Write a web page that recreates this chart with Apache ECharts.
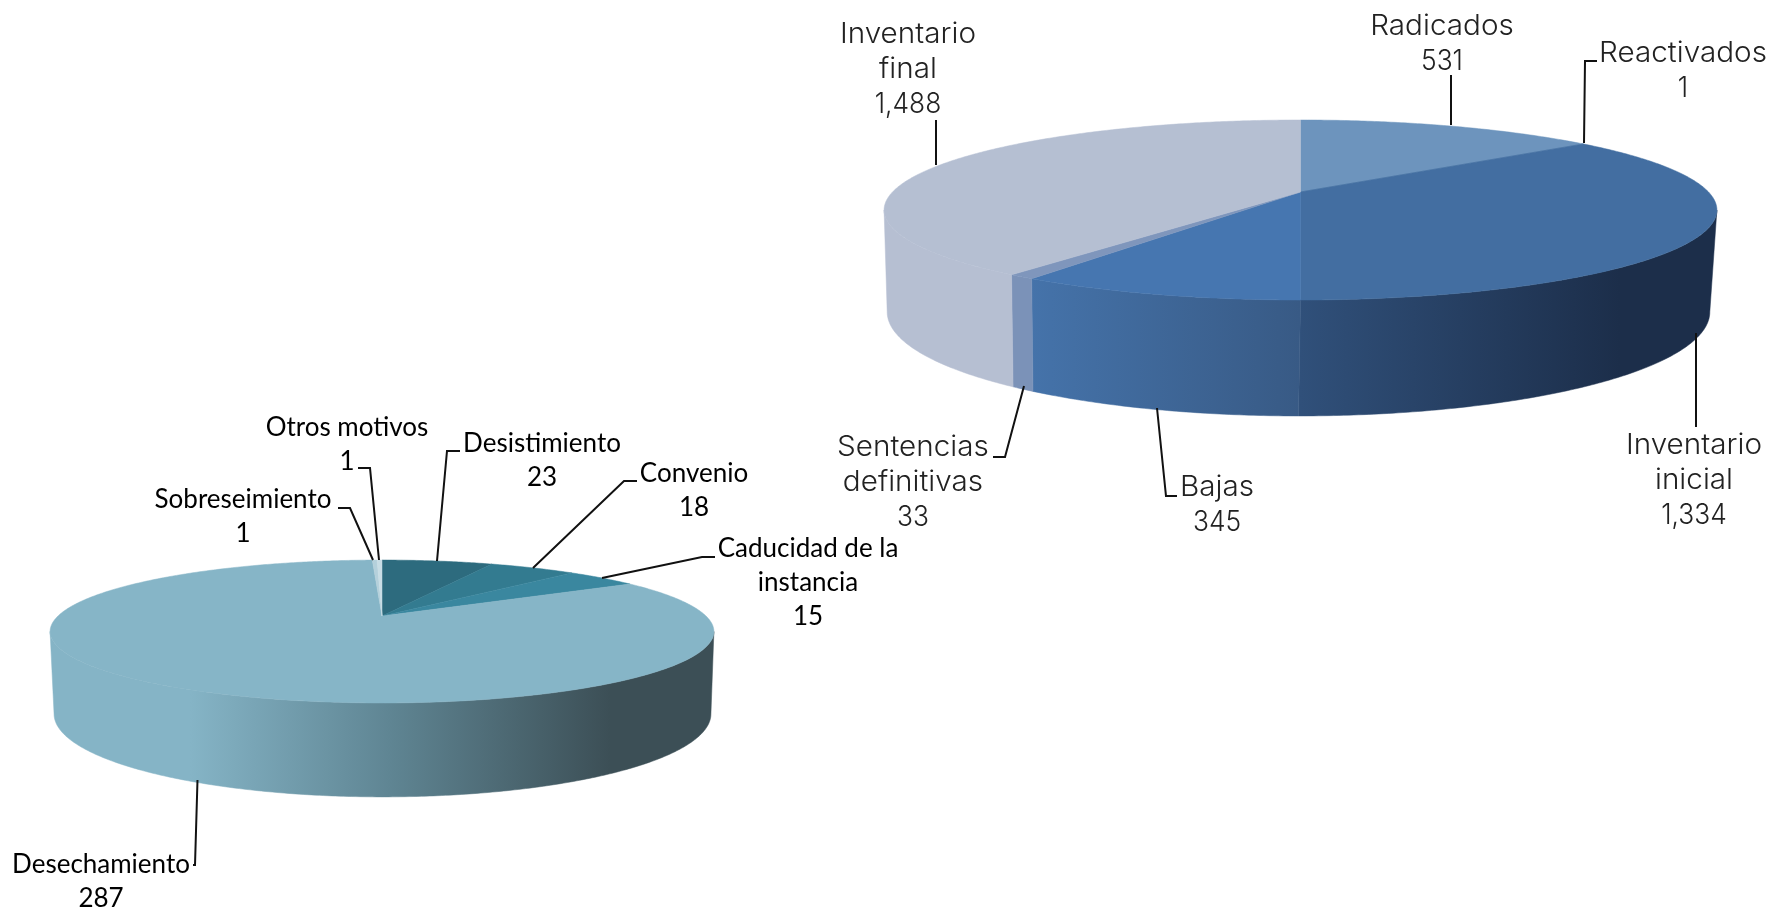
<!DOCTYPE html>
<html>
<head>
<meta charset="utf-8">
<title>Inventario y bajas</title>
<style>
  html, body { margin: 0; padding: 0; background: #fff; }
  #chart { width: 1773px; height: 908px; }
</style>
<script src="https://cdn.jsdelivr.net/npm/echarts@6/dist/echarts.min.js"></script>
</head>
<body>
<div id="chart"></div>
<script>
// data, clockwise from 12 o'clock
var mainCategories = ['Radicados', 'Reactivados', 'Inventario\ninicial', 'Bajas', 'Sentencias\ndefinitivas', 'Inventario\nfinal'];
var mainValues = [531, 1, 1334, 345, 33, 1488];
var leftCategories = ['Desistimiento', 'Convenio', 'Caducidad de la\ninstancia', 'Desechamiento', 'Sobreseimiento', 'Otros motivos'];
var leftValues = [23, 18, 15, 287, 1, 1];

// colours
var mainTopColors = ['#6d94bd', '#5a82ae', '#436ea1', '#4676b0', '#7f96bc', '#b5bfd2'];
var leftTopColors = ['#2d6b7e', '#337b90', '#3a879f', '#86b5c7', '#b4d0db', '#c8dde5'];
var mainSideColors = [
  '#6d94bd',
  '#5a82ae',
  [[1300, '#30507a'], [1620, '#1c2e4a'], [1720, '#1c2e4a']],
  [[1030, '#4573aa'], [1300, '#385a85']],
  '#7b92b8',
  '#b6bfd2'
];
var leftSideColors = [
  '#2d6b7e',
  '#337b90',
  '#3a879f',
  [[49, '#85b4c6'], [190, '#85b4c6'], [390, '#5f8593'], [610, '#3c4f56'], [719, '#3c4f56']],
  '#b4d0db',
  '#c8dde5'
];

// perspective of each disc: apex, radius and foreshortening of top and bottom rim
var mainDisc = {
  k: 0.2,
  top: { cx: 1300.5, apex: 192, r: 408, b: 86.4 },
  bottom: { cx: 1298.5, apex: 291.2, r: 403, b: 99.8 }
};
var leftDisc = {
  k: 0.217,
  top: { cx: 382, apex: 616, r: 324, b: 68.1 },
  bottom: { cx: 382.5, apex: 696, r: 320.6, b: 79 }
};

// label centre and leader line of each slice
var mainLabels = [
  { x: 1442, y: 44, line: [[1451, 75], [1451, 125]] },
  { x: 1683, y: 71, line: [[1584, 143], [1585, 61], [1597, 61]] },
  { x: 1694, y: 481, line: [[1696, 333], [1696, 427]] },
  { x: 1217, y: 505, line: [[1157, 408], [1166, 496], [1177, 496]] },
  { x: 913, y: 483, line: [[1024, 386], [1005, 457], [993, 457]] },
  { x: 908, y: 70, line: [[936, 165], [936, 120]] }
];
var leftLabels = [
  { x: 542, y: 461, line: [[437, 561], [447, 451], [460, 451]] },
  { x: 694, y: 491, line: [[533, 568], [624, 481], [637, 481]] },
  { x: 808, y: 583, line: [[602, 578], [702, 557], [715, 557]] },
  { x: 101, y: 881.5, line: [[197.5, 780], [195, 865], [193, 865]] },
  { x: 243, y: 517, line: [[373, 560], [350, 508], [338, 508]] },
  { x: 347, y: 445, line: [[379, 560], [370, 468], [358, 468]] }
];

// the original text face is wider than what is installed, hence the horizontal stretch
var mainFont = { fontFamily: 'Inter', fontWeight: 300, fontSize: 28, fill: '#222', lineHeight: 35, catScale: 1.06, valScale: 0.94 };
var leftFont = { fontFamily: 'Lato', fontWeight: 400, fontSize: 26, fill: '#000', lineHeight: 34, catScale: 1, valScale: 1 };

function formatValue(v) {
  return String(v).replace(/\B(?=(\d{3})+$)/g, ',');
}

// point of a rim at clockwise angle a (radians from 12 o'clock)
function rimPoint(rim, k, a) {
  var u = Math.sin(a), v = Math.cos(a), w = 1 + k * v;
  return [rim.cx + rim.r * u / w, rim.apex - rim.b * v / w];
}

function arcPoints(rim, k, a0, a1) {
  var pts = [];
  var n = Math.max(1, Math.ceil((a1 - a0) / 0.01));
  for (var i = 0; i <= n; i++) {
    pts.push(rimPoint(rim, k, a0 + (a1 - a0) * i / n));
  }
  return pts;
}

function sideFill(def) {
  if (typeof def === 'string') return def;
  var x0 = def[0][0], x1 = def[def.length - 1][0];
  var stops = def.map(function (s) {
    return { offset: (s[0] - x0) / (x1 - x0), color: s[1] };
  });
  return new echarts.graphic.LinearGradient(x0, 0, x1, 0, stops, true);
}

function labelText(text, x, y, scale, font) {
  return {
    type: 'text',
    x: x,
    y: y,
    scaleX: scale,
    style: {
      text: text,
      fontFamily: font.fontFamily,
      fontWeight: font.fontWeight,
      fontSize: font.fontSize,
      fill: font.fill,
      align: 'center',
      verticalAlign: 'middle',
      lineHeight: font.lineHeight
    }
  };
}

function pieSeries(disc, values, categories, topColors, sideColors, labels, font) {
  var total = values.reduce(function (a, b) { return a + b; }, 0);
  var starts = [];
  values.reduce(function (acc, v, i) { starts[i] = acc; return acc + v; }, 0);
  // only this stretch of the rim faces the viewer
  var frontFrom = Math.acos(-disc.k), frontTo = 2 * Math.PI - frontFrom;

  return {
    type: 'custom',
    coordinateSystem: 'none',
    silent: true,
    animation: false,
    data: values.map(function (v) { return [v]; }),
    renderItem: function (params, api) {
      var i = params.dataIndex;
      var a0 = starts[i] / total * 2 * Math.PI;
      var a1 = a0 + api.value(0) / total * 2 * Math.PI;
      var children = [];

      var from = Math.max(a0, frontFrom), to = Math.min(a1, frontTo);
      if (to > from) {
        var topEdge = arcPoints(disc.top, disc.k, from, to);
        var bottomEdge = arcPoints(disc.bottom, disc.k, from, to).reverse();
        var fill = sideFill(sideColors[i]);
        children.push({
          type: 'polygon',
          shape: { points: topEdge.concat(bottomEdge) },
          style: { fill: fill, stroke: fill, lineWidth: 0.5 }
        });
      }

      var wedge = [[disc.top.cx, disc.top.apex]].concat(arcPoints(disc.top, disc.k, a0, a1));
      children.push({
        type: 'polygon',
        shape: { points: wedge },
        style: { fill: topColors[i], stroke: topColors[i], lineWidth: 0.5 }
      });

      children.push({
        type: 'polyline',
        shape: { points: labels[i].line },
        style: { fill: null, stroke: '#111', lineWidth: 2 }
      });

      var n = categories[i].split('\n').length;
      var lh = font.lineHeight;
      var firstLine = labels[i].y - n * lh / 2;
      children.push(labelText(categories[i], labels[i].x, firstLine + (n - 1) * lh / 2, font.catScale, font));
      children.push(labelText(formatValue(values[i]), labels[i].x, firstLine + n * lh, font.valScale, font));
      return { type: 'group', children: children };
    }
  };
}

var myChart = echarts.init(document.getElementById('chart'));

myChart.setOption({
  backgroundColor: '#fff',
  animation: false,
  series: [
    pieSeries(mainDisc, mainValues, mainCategories, mainTopColors, mainSideColors, mainLabels, mainFont),
    pieSeries(leftDisc, leftValues, leftCategories, leftTopColors, leftSideColors, leftLabels, leftFont)
  ]
});
</script>
</body>
</html>
